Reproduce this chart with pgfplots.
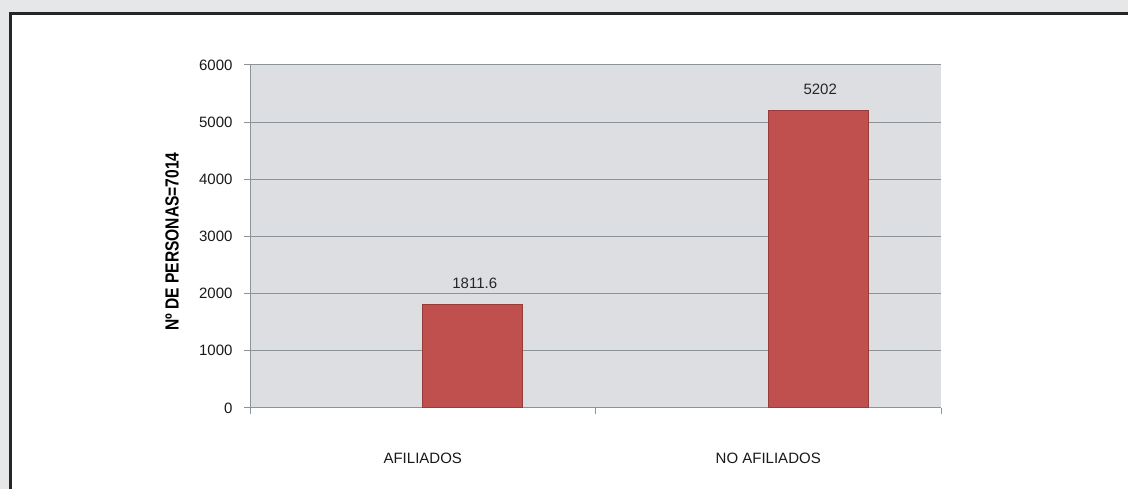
\documentclass[border=0pt]{standalone}
\usepackage{fontspec}
\setmainfont{Liberation Sans}
\usepackage{graphicx}
\usepackage{pgfplots}
\pgfplotsset{compat=1.18}
\definecolor{outerbg}{HTML}{E6E7E8}
\definecolor{plotbg}{HTML}{DDDEE1}
\definecolor{gridc}{HTML}{8C9399}
\definecolor{barfill}{HTML}{C0504D}
\definecolor{baredge}{HTML}{983C3A}
\begin{document}
\begin{tikzpicture}
\path[use as bounding box] (0pt,0pt) rectangle (1128pt,489pt);
\fill[outerbg] (0pt,0pt) rectangle (1128pt,489pt);
\fill[white] (10.7pt,0pt) rectangle (1128pt,475.7pt);
\draw[line width=2.7pt, color=black!85] (10.7pt,0pt) -- (10.7pt,475.7pt) -- (1128pt,475.7pt);
\begin{axis}[
  at={(250pt,81pt)}, anchor=south west,
  scale only axis, width=691pt, height=343pt,
  xmin=0, xmax=2, ymin=0, ymax=6000,
  axis lines*=left,
  axis line style={gridc, line width=1pt},
  tick style={gridc, line width=1pt},
  tick align=outside, major tick length=6pt,
  xtick={0,1,2}, xticklabels={},
  extra x ticks={0.5,1.5},
  extra x tick labels={AFILIADOS,NO AFILIADOS},
  extra x tick style={major tick length=0pt, grid=none,
     xticklabel style={anchor=center, yshift=-50pt}},
  ytick={0,1000,...,6000},
  yticklabel style={xshift=-8pt},
  scaled y ticks=false,
  /pgf/number format/1000 sep={},
  /pgf/number format/assume math mode=true,
  ymajorgrids,
  grid style={gridc, line width=1pt},
  axis background/.style={fill=plotbg},
  tick label style={font=\fontsize{15}{18}\selectfont, black!90},
  ylabel={\scalebox{0.82}[1]{Nº DE PERSONAS=7014}},
  ylabel style={at={(axis description cs:-0.1129,0.485)}, anchor=center,
     font=\fontsize{19}{22}\selectfont\bfseries},
  ybar, bar width=100pt, bar shift=50pt,
  point meta=explicit symbolic,
  nodes near coords={\pgfplotspointmeta},
  nodes near coords style={font=\fontsize{15}{18}\selectfont, anchor=center, yshift=21pt, xshift=2pt, black!85},
]
\addplot[fill=barfill, draw=baredge, line width=1pt] coordinates {(0.5,1811.6) [1811.6] (1.5,5202) [5202]};
\end{axis}
\end{tikzpicture}
\end{document}
